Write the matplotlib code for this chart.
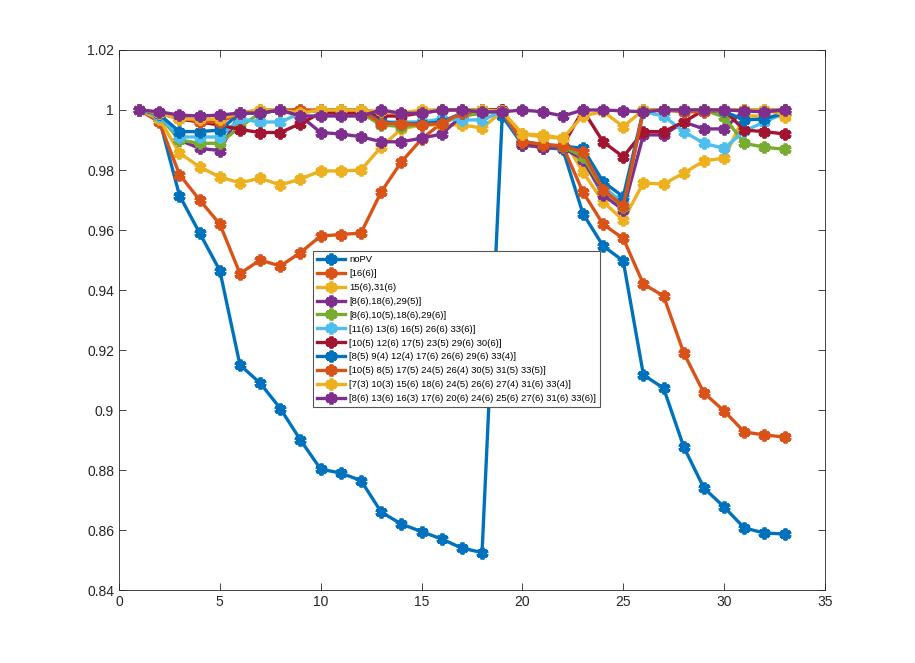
import matplotlib
matplotlib.use("Agg")
import matplotlib.pyplot as plt
import numpy as np

plt.rcParams['font.family'] = ['Liberation Sans', 'DejaVu Sans']

x = list(range(1, 34))

labels = [
    "noPV",
    "[16(6)]",
    "15(6),31(6)",
    "[8(6),18(6),29(5)]",
    "[8(6),10(5),18(6),29(6)]",
    "[11(6) 13(6) 16(5) 26(6) 33(6)]",
    "[10(5) 12(6) 17(5) 23(5) 29(6) 30(6)]",
    "[8(5) 9(4) 12(4) 17(6) 26(6) 29(6) 33(4)]",
    "[10(5) 8(5) 17(5) 24(5) 26(4) 30(5) 31(5) 33(5)]",
    "[7(3) 10(3) 15(6) 18(6) 24(5) 26(6) 27(4) 31(6) 33(4)]",
    "[8(6) 13(6) 16(3) 17(6) 20(6) 24(6) 25(6) 27(6) 31(6) 33(6)]",
]

s1 = [1.0, 0.997, 0.9715, 0.959, 0.9465, 0.915, 0.909, 0.9005, 0.890, 0.8803, 0.879,
      0.8765, 0.866, 0.862, 0.8595, 0.857, 0.854, 0.8525, 0.998, 0.9885, 0.9875, 0.987,
      0.9655, 0.9547, 0.9497, 0.9117, 0.9073, 0.8877, 0.874, 0.8677, 0.8607, 0.859, 0.8587]
s2 = [1.0, 0.996, 0.9785, 0.970, 0.962, 0.9455, 0.950, 0.948, 0.9525, 0.958, 0.9585,
      0.959, 0.9727, 0.9827, 0.9903, 0.9957, 0.998, 0.999, 0.9995, 0.989, 0.988, 0.988,
      0.9727, 0.9619, 0.9572, 0.942, 0.938, 0.919, 0.9057, 0.8997, 0.8927, 0.8917, 0.891]
s3 = [1.0, 0.997, 0.9857, 0.981, 0.9777, 0.9757, 0.9773, 0.975, 0.977, 0.9797, 0.9797,
      0.980, 0.9877, 0.9937, 0.995, 0.995, 0.995, 0.994, 0.9995, 0.992, 0.9917, 0.9906,
      0.9794, 0.9694, 0.9633, 0.9757, 0.9753, 0.979, 0.983, 0.984, 0.998, 0.998, 0.9977]
s4 = [1.0, 0.999, 0.990, 0.9872, 0.9865, 0.999, 0.999, 1.0, 0.998, 0.9925, 0.992,
      0.9911, 0.9894, 0.9894, 0.9906, 0.992, 0.998, 1.0, 1.0, 0.9885, 0.9875, 0.9875,
      0.9835, 0.9717, 0.9667, 0.9917, 0.9917, 0.996, 0.9937, 0.9937, 1.0, 0.9995, 1.0]
s5 = [1.0, 0.998, 0.990, 0.9889, 0.9889, 0.9944, 0.999, 1.0, 1.0, 0.9995, 0.999,
      0.999, 0.995, 0.9945, 0.995, 0.996, 0.998, 0.999, 0.9995, 0.989, 0.988, 0.9878,
      0.9845, 0.9733, 0.9678, 0.9995, 1.0, 1.0, 1.0, 0.9977, 0.9889, 0.9876, 0.9869]
s6 = [1.0, 0.998, 0.991, 0.991, 0.991, 0.997, 0.996, 0.996, 0.999, 1.0, 1.0,
      1.0, 0.996, 0.996, 0.996, 0.997, 0.9967, 0.9967, 0.9995, 0.989, 0.988, 0.988,
      0.986, 0.9745, 0.969, 0.9994, 0.998, 0.9928, 0.9889, 0.9872, 0.993, 0.996, 0.999]
s7 = [1.0, 0.999, 0.997, 0.996, 0.995, 0.9935, 0.9925, 0.9925, 0.9955, 0.999, 0.999,
      0.999, 0.998, 0.998, 0.999, 1.0, 1.0, 1.0, 1.0, 0.989, 0.988, 0.988,
      1.0, 0.9894, 0.9844, 0.9928, 0.9928, 0.996, 1.0, 1.0, 0.9933, 0.9928, 0.992]
s8 = [1.0, 0.9985, 0.9928, 0.9928, 0.9933, 0.999, 0.999, 1.0, 0.9995, 1.0, 1.0,
      1.0, 0.996, 0.9955, 0.9955, 0.996, 0.999, 1.0, 0.9995, 0.9895, 0.9885, 0.988,
      0.9872, 0.9761, 0.9711, 1.0, 1.0, 1.0, 1.0, 0.9995, 0.9967, 0.997, 0.999]
s9 = [1.0, 0.999, 0.9978, 0.996, 0.996, 0.999, 1.0, 1.0, 1.0, 1.0, 1.0,
      1.0, 0.9955, 0.9955, 0.995, 0.9955, 0.999, 1.0, 0.9995, 0.9895, 0.9885, 0.988,
      0.986, 0.9735, 0.968, 1.0, 1.0, 0.9994, 0.9994, 1.0, 1.0, 1.0, 1.0]
s10 = [1.0, 0.999, 0.997, 0.997, 0.997, 0.999, 1.0, 1.0, 0.999, 1.0, 1.0,
       1.0, 0.9995, 0.999, 1.0, 1.0, 1.0, 1.0, 0.9995, 0.992, 0.991, 0.9906,
       0.998, 0.9995, 0.9945, 1.0, 1.0, 1.0, 1.0, 1.0, 1.0, 1.0, 0.9985]
s11 = [1.0, 0.9994, 0.9983, 0.998, 0.9983, 0.999, 0.999, 1.0, 0.998, 0.998, 0.998,
       0.998, 1.0, 0.9989, 0.9989, 1.0, 1.0, 0.9994, 0.9994, 1.0, 0.9994, 0.998,
       1.0, 1.0, 0.9997, 0.9994, 1.0, 1.0, 1.0, 1.0, 0.9997, 0.9994, 1.0]

series = [s1, s2, s3, s4, s5, s6, s7, s8, s9, s10, s11]
colors = ["#0072BD", "#D95319", "#EDB120", "#7E2F8E", "#77AC30", "#4DBEEE",
          "#A2142F", "#0072BD", "#D95319", "#EDB120", "#7E2F8E"]

xticks = [0, 5, 10, 15, 20, 25, 30, 35]
yticks = [0.84, 0.86, 0.88, 0.9, 0.92, 0.94, 0.96, 0.98, 1.0, 1.02]
ytick_labels = ["0.84", "0.86", "0.88", "0.9", "0.92", "0.94", "0.96", "0.98", "1", "1.02"]

fig = plt.figure(figsize=(9.15, 6.63), dpi=100)
ax = fig.add_axes([0.13, 0.11, 0.7716, 0.8146])

for ys, c, lab in zip(series, colors, labels):
    ax.plot(x, ys, color=c, linewidth=2.4, marker=(6, 2, 0), markersize=8.5,
            markeredgewidth=2.8, markeredgecolor=c, markerfacecolor=c, label=lab)

ax.set_xlim(0, 35)
ax.set_ylim(0.84, 1.02)
ax.set_xticks(xticks)
ax.set_yticks(yticks)
ax.set_yticklabels(ytick_labels)
ax.tick_params(direction='in', length=5, width=0.6, colors='#262626', labelsize=10,
               top=True, right=True, labeltop=False, labelright=False)
for sp in ax.spines.values():
    sp.set_color('#262626')
    sp.set_linewidth(0.6)

leg = ax.legend(loc='lower left', bbox_to_anchor=(0.275, 0.339, 0.411, 0.283),
                fontsize=6.8, frameon=True, fancybox=False, framealpha=1,
                edgecolor='#555555', handlelength=3.0, handletextpad=0.45,
                labelspacing=0.52, borderpad=0.4, borderaxespad=0)
leg.get_frame().set_linewidth(0.8)

fig.savefig("out.png", dpi=100, facecolor='white')
